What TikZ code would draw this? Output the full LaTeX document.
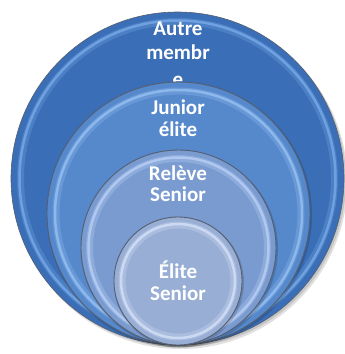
\documentclass[tikz,border=0pt]{standalone}
\usepackage{fontspec}
\setmainfont{Carlito}
\definecolor{cAfill}{RGB}{58,110,182}
\definecolor{cAring}{RGB}{120,170,232}
\definecolor{cBfill}{RGB}{86,136,204}
\definecolor{cBring}{RGB}{150,192,242}
\definecolor{cCfill}{RGB}{122,155,208}
\definecolor{cCring}{RGB}{185,208,246}
\definecolor{cDfill}{RGB}{152,174,212}
\definecolor{cDring}{RGB}{212,224,247}
\definecolor{rimline}{RGB}{85,95,112}
\begin{document}
\begin{tikzpicture}[x=1pt,y=-1pt,
  lbl/.style={text=white,font=\bfseries\fontsize{21}{23}\selectfont,anchor=base,inner sep=0pt},
  disc/.style={fill=#1,draw=rimline,line width=0.9pt},
  softring/.style={draw=#1,line width=7pt,opacity=0.3},
  ring/.style={draw=#1,line width=2.5pt,opacity=0.8}]
\useasboundingbox (0,0) rectangle (345,354);
% drop shadow of outer circle
\fill[black,opacity=0.12] (180.5,182) circle[radius=167];
\fill[black,opacity=0.12] (179.5,180.5) circle[radius=166.5];
% outer circle
\fill[cAfill] (177.5,178.5) circle[radius=166.5];
\draw[rimline,line width=0.6pt] (177.5,178.5) circle[radius=166.5];
\draw[softring=cAring] (177.5,178.5) circle[radius=157];
\draw[ring=cAring] (177.5,178.5) circle[radius=158];
\node[lbl] (t1a) at (178,35) {Autre};
\node[lbl] (t1b) at (178,59) {membr};
\node[lbl] (t1c) at (178,86) {e};
% circle 2
\fill[black,opacity=0.15] (179.5,215) circle[radius=132.5];
\path[disc=cBfill] (178.5,213.5) circle[radius=131.5];
\draw[softring=cBring] (178.5,213.5) circle[radius=122.5];
\draw[ring=cBring] (178.5,213.5) circle[radius=123.5];
\node[lbl] (t2a) at (178,114) {Junior};
\node[lbl] (t2b) at (178,136) {élite};
% circle 3
\fill[black,opacity=0.15] (179.5,249) circle[radius=98.5];
\path[disc=cCfill] (178.5,247.5) circle[radius=97.5];
\draw[softring=cCring] (178.5,247.5) circle[radius=89];
\draw[ring=cCring] (178.5,247.5) circle[radius=90];
\node[lbl] (t3a) at (178,180) {Relève};
\node[lbl] (t3b) at (178,201) {Senior};
% circle 4
\fill[black,opacity=0.15] (179,282.5) circle[radius=65];
\path[disc=cDfill] (178,281) circle[radius=64];
\draw[softring=cDring] (178,281) circle[radius=56];
\draw[ring=cDring] (178,281) circle[radius=57];
\node[lbl] (t4a) at (178,278) {Élite};
\node[lbl] (t4b) at (178,300) {Senior};
\end{tikzpicture}
\end{document}
